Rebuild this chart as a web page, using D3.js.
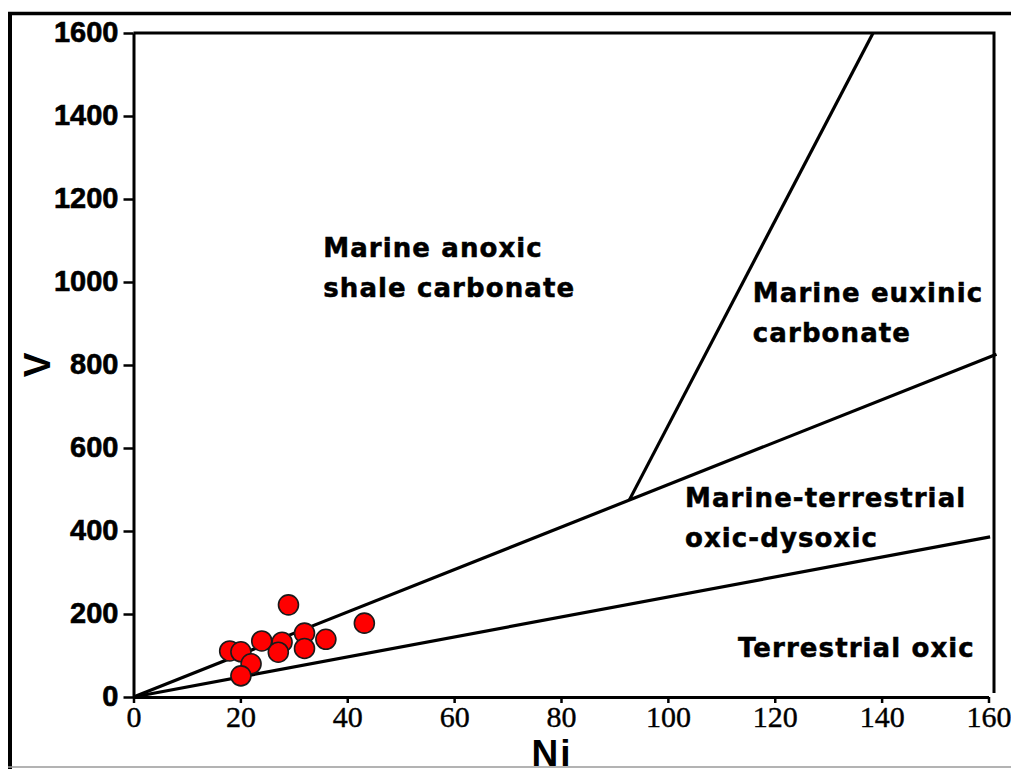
<!DOCTYPE html>
<html>
<head>
<meta charset="utf-8">
<script src="https://cdn.jsdelivr.net/npm/d3@7"></script>
<style>
  html, body { margin: 0; padding: 0; background: #fff; }
  svg { display: block; }
</style>
</head>
<body>
<svg id="chart" width="1011" height="769"></svg>
<script>
// Sample compositions (ppm)
const niValues = [29.0, 43.2, 18.0, 20.1, 24.0, 27.8, 27.1, 32.0, 32.0, 36.0, 22.0, 20.1];
const vValues  = [222, 178, 111, 109, 135, 132, 108, 154, 117, 139, 80, 51];

// Field boundaries in the V–Ni plane (each as [Ni, V] end points)
const boundaryNames = ["oxic limit", "anoxic limit", "euxinic limit"];
const boundaryNi = [[0, 160.3], [0, 161.5], [92.8, 138.4]];
const boundaryV  = [[0, 386],   [0, 826],   [475, 1600]];

// Axis ticks
const xTicks = [0, 20, 40, 60, 80, 100, 120, 140, 160];
const yTicks = [0, 200, 400, 600, 800, 1000, 1200, 1400, 1600];

// Field names (lines of text)
const fieldLabels = [
  ["Marine anoxic", "shale carbonate"],
  ["Marine euxinic", "carbonate"],
  ["Marine-terrestrial", "oxic-dysoxic"],
  ["Terrestrial oxic"]
];

const svg = d3.select("#chart");

const x = d3.scaleLinear().domain([0, 160]).range([133.5, 988.5]);
const y = d3.scaleLinear().domain([0, 1600]).range([697, 33]);

// Outer frame of the figure
svg.append("line").attr("x1", 8).attr("x2", 1011).attr("y1", 13.5).attr("y2", 13.5)
  .attr("stroke", "#000").attr("stroke-width", 3.5);
svg.append("line").attr("x1", 10).attr("x2", 10).attr("y1", 12).attr("y2", 769)
  .attr("stroke", "#000").attr("stroke-width", 4);
svg.append("line").attr("x1", 8).attr("x2", 1011).attr("y1", 767).attr("y2", 767)
  .attr("stroke", "#9a9a9a").attr("stroke-width", 1.5);

// Plot frame: top and right edges
const frameRight = x.range()[1] + 5.5;
svg.append("path")
  .attr("d", `M${x(0)},${y(1600)} H${frameRight} V${y(0) - 4}`)
  .attr("fill", "none").attr("stroke", "#000").attr("stroke-width", 3);

// X axis
const xAxis = svg.append("g")
  .attr("transform", `translate(0,${y(0)})`)
  .call(d3.axisBottom(x).tickValues(xTicks).tickFormat(d3.format("d"))
    .tickSize(6).tickPadding(3).tickSizeOuter(0));
xAxis.select(".domain").attr("stroke", "#000").attr("stroke-width", 3);
xAxis.selectAll(".tick line").attr("stroke", "#000").attr("stroke-width", 2.5);
xAxis.selectAll(".tick text")
  .attr("font-family", "'Liberation Serif', 'Times New Roman', serif")
  .attr("font-size", 30).attr("fill", "#000")
  .attr("stroke", "#000").attr("stroke-width", 0.4);

// Y axis
const yAxis = svg.append("g")
  .attr("transform", `translate(${x(0)},0)`)
  .call(d3.axisLeft(y).tickValues(yTicks).tickFormat(d3.format("d"))
    .tickSize(10).tickPadding(5).tickSizeOuter(0));
yAxis.select(".domain").attr("stroke", "#000").attr("stroke-width", 3);
yAxis.selectAll(".tick line").attr("stroke", "#000").attr("stroke-width", 2.5);
yAxis.selectAll(".tick text")
  .attr("font-family", "'Liberation Sans', Arial, sans-serif")
  .attr("font-weight", "bold").attr("font-size", 29).attr("fill", "#000")
  .attr("stroke", "#000").attr("stroke-width", 0.6)
  .attr("dy", "0.3em");

// Axis titles
svg.append("text")
  .attr("transform", `translate(50,${y(800)}) rotate(-90)`)
  .attr("text-anchor", "middle")
  .attr("font-family", "'Liberation Sans', Arial, sans-serif")
  .attr("font-weight", "bold").attr("font-size", 37)
  .text("V");
svg.append("text")
  .attr("x", 552).attr("y", 766)
  .attr("text-anchor", "middle")
  .attr("font-family", "'Liberation Sans', Arial, sans-serif")
  .attr("font-weight", "bold").attr("font-size", 37)
  .attr("letter-spacing", 2)
  .text("Ni");

// Field boundaries
const boundaries = boundaryNames.map((name, i) =>
  ({ name, pts: boundaryNi[i].map((n, j) => [n, boundaryV[i][j]]) }));
const line = d3.line().x(d => x(d[0])).y(d => y(d[1]));
svg.append("g").selectAll("path")
  .data(boundaries)
  .join("path")
  .attr("d", d => line(d.pts))
  .attr("fill", "none").attr("stroke", "#000").attr("stroke-width", 3.2);

// Samples
const samples = niValues.map((n, i) => ({ ni: n, v: vValues[i] }));
svg.append("g").selectAll("circle")
  .data(samples)
  .join("circle")
  .attr("cx", d => x(d.ni))
  .attr("cy", d => y(d.v))
  .attr("r", 10)
  .attr("fill", "#ff0000")
  .attr("stroke", "#1a1a1a").attr("stroke-width", 1.6);

// Field labels anchored in data space (first-line baseline)
const labelAnchors = [[35.5, 1060], [115.9, 952], [103.2, 458], [113.1, 96]];
const lab = svg.append("g")
  .attr("font-family", "'DejaVu Sans', Verdana, sans-serif")
  .attr("font-weight", "bold").attr("font-size", 26)
  .attr("letter-spacing", 1.1)
  .attr("fill", "#000").attr("stroke", "#000").attr("stroke-width", 0.5);
fieldLabels.forEach((lines, i) => {
  const t = lab.append("text")
    .attr("x", x(labelAnchors[i][0]))
    .attr("y", y(labelAnchors[i][1]));
  lines.forEach((s, k) => {
    t.append("tspan")
      .attr("x", x(labelAnchors[i][0]))
      .attr("dy", k === 0 ? 0 : 40)
      .text(s);
  });
});
</script>
</body>
</html>
